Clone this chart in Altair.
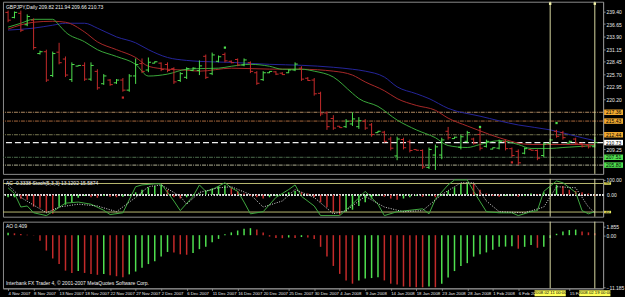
import altair as alt
import pandas as pd

# ---------------- data ----------------
bar_idx = list(range(93))
opens = [239.2, 238.1, 239.0, 236.5, 237.5, 230.2, 230.6, 225.4, 230.5, 229.0,
         224.5, 227.45, 227.6, 224.6, 226.3, 223.6, 224.4, 223.8, 224.4, 222.2,
         225.3, 228.0, 226.6, 228.1, 228.1, 227.8, 226.9, 224.3, 225.0, 226.5,
         226.5, 229.6, 225.8, 228.5, 230.0, 228.5, 228.9, 227.7, 228.2, 226.0,
         224.5, 226.0, 226.2, 225.9, 226.0, 226.6, 227.0, 224.8, 224.4, 221.5,
         217.2, 216.0, 214.3, 214.2, 214.8, 214.2, 215.4, 214.6, 212.9, 213.0,
         211.5, 207.8, 211.4, 210.9, 209.2, 209.0, 205.3, 208.0, 208.0, 213.2,
         211.6, 209.7, 211.0, 211.5, 212.5, 209.9, 209.3, 209.5, 211.0, 209.4,
         208.8, 208.4, 209.2, 209.0, 207.9, 210.5, 213.2, 212.9, 210.6, 211.5,
         210.5, 210.2, 209.82]
highs = [239.6, 239.4, 239.6, 238.76, 237.9, 230.84, 231.05, 230.63, 232.55, 229.56,
         228.27, 227.63, 228.27, 228.27, 226.77, 225.7, 224.63, 224.63, 224.85, 225.7,
         229.13, 229.13, 229.34, 228.49, 228.27, 228.27, 227.2, 226.13, 227.2, 227.2,
         228.7, 229.98, 230.41, 229.77, 230.41, 228.7, 229.13, 229.13, 228.49, 226.35,
         226.35, 226.35, 226.35, 226.13, 226.77, 228.27, 227.42, 225.06, 224.85, 221.85,
         217.57, 216.72, 214.36, 215.86, 217.36, 216.29, 215.86, 215.0, 213.29, 213.29,
         212.01, 212.01, 211.79, 211.37, 209.23, 209.23, 209.65, 210.3, 211.79, 214.15,
         212.01, 212.44, 213.29, 211.79, 213.93, 211.37, 209.65, 211.37, 211.37, 209.65,
         209.23, 209.65, 209.23, 209.23, 210.72, 211.58, 213.51, 213.29, 211.15, 211.79,
         210.72, 210.3, 211.94]
lows = [237.05, 237.9, 234.9, 236.19, 231.05, 229.98, 223.99, 225.06, 227.84, 225.06,
        223.99, 227.42, 224.21, 224.21, 222.28, 223.35, 223.14, 223.56, 221.85, 221.85,
        223.56, 225.92, 226.13, 228.06, 226.35, 226.13, 223.56, 223.99, 224.63, 226.35,
        225.49, 224.63, 225.49, 228.27, 228.27, 228.06, 227.42, 227.42, 225.92, 223.35,
        224.21, 225.92, 225.49, 225.49, 225.92, 226.35, 224.21, 224.21, 220.99, 216.5,
        213.51, 213.51, 213.93, 213.93, 214.36, 213.72, 213.51, 212.01, 212.86, 210.72,
        209.01, 206.87, 209.23, 208.58, 209.01, 204.95, 204.95, 204.73, 207.09, 211.37,
        211.58, 209.23, 210.72, 210.3, 209.01, 209.65, 209.23, 209.23, 209.01, 207.51,
        205.8, 208.16, 209.01, 206.87, 207.51, 210.3, 211.79, 211.37, 210.51, 210.3,
        209.65, 209.44, 209.66]
closes = [237.5, 239.2, 235.3, 238.3, 231.5, 230.6, 224.4, 230.2, 228.2, 225.5,
          227.8, 227.6, 224.6, 227.6, 222.7, 225.3, 223.4, 224.4, 222.2, 225.3,
          227.8, 226.3, 228.3, 228.4, 226.7, 226.5, 224.0, 225.8, 226.9, 227.0,
          227.5, 225.0, 229.9, 229.5, 228.6, 228.2, 227.7, 228.8, 226.3, 223.7,
          226.0, 226.3, 225.7, 225.6, 226.6, 227.9, 224.6, 224.3, 221.4, 217.0,
          214.2, 213.9, 214.0, 215.4, 215.9, 215.5, 213.9, 212.5, 213.2, 211.0,
          209.5, 211.5, 209.6, 209.0, 209.05, 205.4, 209.2, 209.8, 211.3, 211.8,
          211.9, 212.0, 212.9, 210.6, 209.5, 211.0, 209.6, 211.0, 209.4, 207.9,
          206.3, 209.4, 209.05, 207.3, 210.4, 211.3, 212.1, 211.8, 211.0, 210.6,
          209.9, 209.8, 210.73]

# moving averages (sampled points)
ma_fast_idx = [0, 2, 4, 7, 8, 9, 12, 14, 17, 20, 22, 25, 28, 30, 33, 35, 38, 41, 43, 46,
               48, 51, 54, 55, 58, 61, 64, 67, 69, 72, 74, 77, 80, 82, 85, 87, 92]
ma_fast_val = [235.98, 236.83, 237.69, 237.69, 236.4, 234.91, 232.77, 231.05, 229.56, 227.84,
               225.28, 225.7, 226.77, 226.9, 227.0, 227.42, 227.84, 227.42, 226.77, 226.77,
               226.35, 225.06, 221.5, 220.35, 218.64, 215.65, 213.51, 211.79, 210.08, 209.65,
               210.3, 211.15, 210.3, 209.44, 209.44, 209.65, 210.08]
ma_mid_idx = [0, 4, 7, 9, 12, 14, 17, 20, 22, 25, 28, 30, 35, 41, 46, 51, 54, 56, 59, 61,
              64, 67, 69, 72, 74, 77, 82, 87, 92]
ma_mid_val = [235.55, 237.05, 237.26, 237.05, 234.91, 232.77, 231.05, 229.34, 227.42, 226.77,
              226.56, 226.35, 227.0, 226.8, 226.77, 226.35, 225.49, 223.99, 222.07, 220.35,
              218.86, 217.79, 216.07, 214.36, 213.29, 211.79, 210.3, 210.3, 210.3]
ma_slow_idx = [0, 4, 7, 9, 12, 14, 17, 20, 22, 25, 28, 30, 35, 41, 46, 51, 54, 56, 59, 61,
               64, 66, 69, 74, 80, 85, 90, 92]
ma_slow_val = [235.33, 235.76, 236.4, 236.83, 236.83, 235.76, 233.84, 232.55, 231.05, 229.34,
               228.7, 228.49, 228.27, 227.84, 227.63, 227.2, 226.77, 226.35, 225.06, 222.92,
               221.42, 220.35, 218.21, 216.5, 214.58, 213.51, 211.79, 211.15]

# fractal marks
frac_idx = [18, 34, 74, 79, 86]
frac_val = [220.57, 231.5, 214.15, 206.4, 215.0]
frac_kind = ["low", "high", "high", "low", "high"]

# horizontal levels on the price chart
level_val = [217.36, 215.43, 212.44, 207.51, 205.80]
level_line = ["#b08a62", "#a8683c", "#7a7a52", "#4e6e4e", "#b4b496"]
level_tag = ["#f0a830", "#f0a830", "#f0a830", "#50e050", "#50e050"]
current_price = [210.73]

price_ticks = [239.40, 236.65, 233.90, 231.15, 228.45, 225.70, 222.95, 220.20,
               209.25]

# stochastic (main and signal), sampled points
stoch_idx = [0, 1, 2, 3, 4, 6, 7, 9, 11, 13, 15, 16, 18, 20, 21, 23, 24, 26, 27, 29,
             30, 31, 32, 34, 35, 36, 37, 38, 40, 42, 44, 45, 46, 48, 49, 52, 54, 56, 58, 59,
             61, 65, 66, 67, 69, 70, 72, 73, 75, 77, 79, 80, 82, 83, 84, 86, 87, 89, 90, 91, 92]
stoch_val = [78, 62, 24, 27, 8, 0, 11, 35, 38, 32, 15, 3, 8, 81, 86, 89, 89, 41, 14, 54,
             86, 68, 73, 92, 78, 68, 38, 5, 11, 51, 73, 86, 54, 27, 0, 0, 32, 68, 32, 0,
             11, 19, 5, 46, 86, 100, 100, 68, 11, 8, 8, 0, 11, 14, 68, 97, 92, 65, 14, 5, 11]
signal_idx = [0, 2, 6, 8, 11, 14, 17, 20, 22, 24, 27, 28, 30, 33, 35, 38, 40, 43, 45, 48,
              51, 53, 56, 59, 62, 65, 68, 71, 73, 75, 77, 81, 84, 86, 89, 91, 92]
signal_val = [86, 51, 8, 24, 32, 27, 11, 51, 81, 86, 54, 32, 65, 78, 81, 59, 24, 41, 73, 51,
              5, 14, 54, 24, 11, 14, 59, 92, 92, 41, 11, 8, 24, 81, 78, 24, 8]
stoch_levels = [90, 10]
stoch_level_lab = ["90", "10"]

# accelerator histogram (one value per bar)
ac_val = [-0.1, -0.1, -0.16, -0.2, -0.48, -0.52, -0.68, -0.76, -0.48, -0.4,
          -0.32, -0.12, -0.05, -0.1, -0.12, -0.05, -0.08, -0.1, -0.08, -0.04,
          0.1, 0.2, 0.3, 0.35, 0.4, 0.2, -0.1, -0.15, -0.1, -0.05,
          0.05, 0.15, 0.25, 0.35, 0.38, 0.3, 0.15, 0.05, -0.05, -0.1,
          -0.15, -0.1, -0.05, 0.02, 0.1, 0.15, 0.1, 0.05, -0.1, -0.3,
          -0.5, -0.7, -0.8, -0.68, -0.6, -0.45, -0.3, -0.15, -0.05, -0.08,
          -0.15, -0.2, -0.15, -0.1, -0.05, -0.08, -0.05, -0.1, -0.05, 0.15,
          0.3, 0.45, 0.5, 0.45, 0.2, 0.05, -0.05, -0.08, -0.05, -0.03,
          -0.08, -0.05, 0.05, 0.03, 0.1, 0.3, 0.4, 0.35, 0.2, 0.15,
          0.1, 0.05, -0.05]

# awesome oscillator histogram (one value per bar)
ao_val = [0.5, 0.4, 0.25, 0.1, -0.05, -1.2, -3.3, -5.0, -6.2, -7.6,
          -8.1, -7.7, -8.1, -8.3, -8.5, -8.3, -8.6, -8.8, -9.0, -8.4,
          -7.8, -7.0, -6.2, -5.6, -4.6, -3.6, -3.7, -4.1, -4.2, -3.8,
          -3.0, -2.5, -1.5, -0.8, 0.2, 0.6, 1.0, 1.4, 1.5, 1.2,
          0.6, -0.3, -0.6, -0.65, -0.5, -0.6, -0.4, -0.5, -0.8, -2.5,
          -4.6, -6.6, -8.3, -9.7, -10.4, -9.7, -9.3, -9.2, -9.0, -9.7,
          -10.4, -10.6, -11.0, -11.05, -11.15, -11.18, -11.0, -11.18, -10.4, -9.1,
          -7.7, -6.6, -6.0, -4.6, -4.1, -3.7, -3.1, -2.5, -2.45, -2.4,
          -2.9, -2.5, -2.1, -2.7, -2.5, -0.6, 0.3, 0.8, 1.1, 1.2,
          0.8, 0.6, 0.4]
ao_ticks = [1.855, 0.0, -11.185]

# date axis
date_idx = [0, 4, 8, 12, 16, 20, 24, 28, 32, 36, 40, 44, 48, 52, 56, 60, 64, 68, 72, 76, 80, 88]
date_lab = ["4 Nov 2007", "8 Nov 2007", "13 Nov 2007", "18 Nov 2007", "22 Nov 2007",
            "27 Nov 2007", "2 Dec 2007", "6 Dec 2007", "11 Dec 2007", "16 Dec 2007",
            "20 Dec 2007", "25 Dec 2007", "30 Dec 2007", "4 Jan 2008", "9 Jan 2008",
            "14 Jan 2008", "18 Jan 2008", "23 Jan 2008", "28 Jan 2008", "1 Feb 2008",
            "6 Feb 2008", "15 Feb 2008"]
cross_idx = [85, 92]
cross_lab = ["2008.02.11 00:00", "2008.02.19 00:00"]

title_main = "GBPJPY,Daily  209.82 211.94 209.66 210.73"
title_stoch = "AC -0.3338  Stoch(5,3,3) 13.1202 15.5874"
title_ao = "AO 0.409"
copyright_txt = "Interbank FX Trader 4, \u00a9 2001-2007 MetaQuotes Software Corp."

# ---------------- styling ----------------
W = 603
H1, H2, H3 = 173, 38, 67
UP, DOWN = "#4fe04f", "#c42a2a"
FONT = "Liberation Sans"
XS = alt.Scale(domain=[-0.8, 93.3], nice=False, zero=False)
dir_color = alt.Color("dir:N", scale=alt.Scale(domain=["up", "down"], range=[UP, DOWN]), legend=None)

def xnone(field):
    return alt.X(field, scale=XS, axis=None)

# ---------------- main price panel ----------------
ohlc = pd.DataFrame(dict(i=bar_idx, o=opens, h=highs, l=lows, c=closes))
ohlc["dir"] = ["up" if c >= o else "down" for o, c in zip(opens, closes)]

ys1 = alt.Scale(domain=[203.88, 241.54], nice=False, zero=False)
yax1 = alt.Axis(orient="right", values=price_ticks, format=".2f", title=None,
                labelFontSize=5, tickSize=2, labelPadding=1)

def Y1(field):
    return alt.Y(field, scale=ys1, axis=yax1)

base = alt.Chart(ohlc)
hl = base.mark_rule(strokeWidth=1).encode(x=xnone("i:Q"), y=Y1("l:Q"), y2="h:Q", color=dir_color)
otick = base.transform_calculate(xo="datum.i - 0.42").mark_rule(strokeWidth=1).encode(
    x=xnone("xo:Q"), x2="i:Q", y=Y1("o:Q"), color=dir_color)
ctick = base.transform_calculate(xc="datum.i + 0.42").mark_rule(strokeWidth=1).encode(
    x=xnone("i:Q"), x2="xc:Q", y=Y1("c:Q"), color=dir_color)

def ma_line(idx, vals, col):
    d = pd.DataFrame(dict(i=idx, v=vals))
    return alt.Chart(d).mark_line(color=col, strokeWidth=1, interpolate="monotone").encode(
        x=xnone("i:Q"), y=Y1("v:Q"))

ma_slow = ma_line(ma_slow_idx, ma_slow_val, "#25259a")
ma_mid = ma_line(ma_mid_idx, ma_mid_val, "#a82828")
ma_fast = ma_line(ma_fast_idx, ma_fast_val, "#3aa83a")

lev = pd.DataFrame(dict(level=level_val, lc=level_line, tc=level_tag,
                        label=[f"{v:.2f}" for v in level_val]))
lev_rules = alt.Chart(lev).mark_rule(strokeWidth=1, strokeDash=[4, 1, 1, 1]).encode(
    y=Y1("level:Q"), color=alt.Color("lc:N", scale=None))
cur = pd.DataFrame(dict(level=current_price, label=[f"{v:.2f}" for v in current_price]))
cur_rule = alt.Chart(cur).mark_rule(strokeWidth=1.2, strokeDash=[6, 3], color="#f0f0f0").encode(
    y=Y1("level:Q"))

tags = alt.Chart(lev).transform_calculate(lo="datum.level - 0.6", hi="datum.level + 0.6").mark_rect().encode(
    x=alt.value(W + 1), x2=alt.value(W + 20), y=Y1("lo:Q"), y2="hi:Q", color=alt.Color("tc:N", scale=None))
tag_txt = alt.Chart(lev).mark_text(align="left", baseline="middle", fontSize=5, font=FONT, color="black").encode(
    x=alt.value(W + 3), y=Y1("level:Q"), text="label:N")
cur_tag = alt.Chart(cur).transform_calculate(lo="datum.level - 0.6", hi="datum.level + 0.6").mark_rect(color="white").encode(
    x=alt.value(W + 1), x2=alt.value(W + 20), y=Y1("lo:Q"), y2="hi:Q")
cur_txt = alt.Chart(cur).mark_text(align="left", baseline="middle", fontSize=5, font=FONT, color="black").encode(
    x=alt.value(W + 3), y=Y1("level:Q"), text="label:N")

frac = pd.DataFrame(dict(i=frac_idx, v=frac_val, k=frac_kind))
frac_pts = alt.Chart(frac).mark_square(size=5, opacity=1).encode(
    x=xnone("i:Q"), y=Y1("v:Q"),
    color=alt.Color("k:N", scale=alt.Scale(domain=["high", "low"], range=["#e03030", "#40e040"]), legend=None))

cross = pd.DataFrame(dict(i=cross_idx, lab=cross_lab))
cross_rule = alt.Chart(cross).mark_rule(color="#d8d8a0", strokeWidth=1).encode(x=xnone("i:Q"))
cross_top = alt.Chart(cross).mark_square(size=6, color="#f4f4a8", opacity=1).encode(
    x=xnone("i:Q"), y=alt.value(2))

def header(txt, ypos):
    return alt.Chart(pd.DataFrame(dict(t=[txt]))).mark_text(
        align="left", baseline="top", fontSize=5, font=FONT, color="#f0f0f0").encode(
        x=alt.value(3), y=alt.value(ypos), text="t:N")

main = alt.layer(lev_rules, cur_rule, ma_slow, ma_mid, ma_fast, hl, otick, ctick, frac_pts,
                 cross_rule, cross_top, tags, tag_txt, cur_tag, cur_txt,
                 header(title_main, 3)).properties(width=W, height=H1)

# ---------------- stochastic / AC panel ----------------
acdf = pd.DataFrame(dict(i=bar_idx, ac=ac_val))
acdf["dir"] = ["up" if k == 0 or v >= ac_val[k - 1] else "down" for k, v in enumerate(ac_val)]
ys_ac = alt.Scale(domain=[-0.88, 0.64], nice=False, zero=False)
ys_st = alt.Scale(domain=[-3, 103], nice=False, zero=False)

ac_bars = alt.Chart(acdf).mark_rule(strokeWidth=1.5).encode(
    x=xnone("i:Q"), y=alt.Y("ac:Q", scale=ys_ac, axis=None), y2=alt.datum(0), color=dir_color)
ac_zero = alt.Chart(acdf).mark_rule(strokeWidth=1, strokeDash=[1, 2], color="#e0e0e0").encode(
    y=alt.YDatum(0, scale=ys_ac, axis=None))
ac_zero_lab = alt.Chart(pd.DataFrame(dict(t=["0.00"]))).mark_text(
    align="left", baseline="middle", fontSize=5, font=FONT, color="#e8e8e8").encode(
    x=alt.value(W + 4), y=alt.YDatum(0, scale=ys_ac, axis=None), text="t:N")
stl = pd.DataFrame(dict(v=stoch_levels, lab=stoch_level_lab))
st_lev = alt.Chart(stl).mark_rule(strokeWidth=1, color="#b8b870").encode(
    y=alt.Y("v:Q", scale=ys_st, axis=None))
st_tag = alt.Chart(stl).transform_calculate(lo="datum.v - 3.5", hi="datum.v + 3.5").mark_rect(color="#e8e860").encode(
    x=alt.value(W + 1), x2=alt.value(W + 8), y=alt.Y("lo:Q", scale=ys_st, axis=None), y2="hi:Q")
st_tag_txt = alt.Chart(stl).mark_text(align="left", baseline="middle", fontSize=4, font=FONT, color="black").encode(
    x=alt.value(W + 2), y=alt.Y("v:Q", scale=ys_st, axis=None), text="lab:N")
st_main = alt.Chart(pd.DataFrame(dict(i=stoch_idx, v=stoch_val))).mark_line(
    color="#3fa83f", strokeWidth=1).encode(
    x=xnone("i:Q"),
    y=alt.Y("v:Q", scale=ys_st, axis=alt.Axis(orient="right", values=[100], title=None,
                                              labelExpr="'100.00'", labelFontSize=5, tickSize=2, labelPadding=1)))
st_sig = alt.Chart(pd.DataFrame(dict(i=signal_idx, v=signal_val))).mark_line(
    color="#d8d8d8", strokeWidth=1, strokeDash=[1, 1.5]).encode(
    x=xnone("i:Q"), y=alt.Y("v:Q", scale=ys_st, axis=None))

stoch = alt.layer(ac_zero, ac_bars, st_lev, st_main, st_sig, cross_rule, ac_zero_lab, st_tag, st_tag_txt,
                  header(title_stoch, 2)).resolve_scale(y="independent").properties(width=W, height=H2)

# ---------------- AO panel ----------------
aodf = pd.DataFrame(dict(i=bar_idx, ao=ao_val))
aodf["dir"] = ["up" if k == 0 or v >= ao_val[k - 1] else "down" for k, v in enumerate(ao_val)]
ys_ao = alt.Scale(domain=[-11.4, 2.9], nice=False, zero=False)

lab_expr = "''"
for k, lab in reversed(list(zip(date_idx, date_lab))):
    lab_expr = f"datum.value == {k} ? '{lab}' : ({lab_expr})"

xax = alt.Axis(values=date_idx, labelExpr=lab_expr, labelAlign="left", labelFontSize=4.3,
               labelPadding=1, tickSize=2, labelOverlap=False, labelFlush=False, title=None)
XA = alt.X("i:Q", scale=XS, axis=xax)
yax_ao = alt.Axis(orient="right", values=ao_ticks, title=None, labelFontSize=5, tickSize=2, labelPadding=1,
                  labelExpr="datum.value == 0 ? '0.00' : format(datum.value, '.3f')")

ao_bars = alt.Chart(aodf).mark_rule(strokeWidth=1.5).encode(
    x=XA, y=alt.Y("ao:Q", scale=ys_ao, axis=yax_ao), y2=alt.datum(0), color=dir_color)
cross_rule3 = alt.Chart(cross).mark_rule(color="#d8d8a0", strokeWidth=1).encode(x=XA)
hl_box = alt.Chart(cross).transform_calculate(a="datum.i - 2.45", b="datum.i + 2.45").mark_rect(color="#ffff5a").encode(
    x=alt.X("a:Q", scale=XS, axis=xax), x2="b:Q", y=alt.value(H3 + 2), y2=alt.value(H3 + 8))
hl_txt = alt.Chart(cross).mark_text(fontSize=4.3, font=FONT, color="black", baseline="middle").encode(
    x=XA, y=alt.value(H3 + 5), text="lab:N")
copy_txt = alt.Chart(pd.DataFrame(dict(t=[copyright_txt]))).mark_text(
    align="left", baseline="bottom", fontSize=5, font=FONT, color="#f0f0f0").encode(
    x=alt.value(3), y=alt.value(H3 - 2), text="t:N")

ao = alt.layer(ao_bars, cross_rule3, header(title_ao, 2), copy_txt, hl_box, hl_txt).properties(width=W, height=H3)

chart = alt.vconcat(main, stoch, ao, spacing=2).properties(
    background="black", padding={"left": 1, "top": 0, "right": 0, "bottom": 0}
).configure_view(stroke="#8a8a8a", strokeWidth=1).configure_axis(
    labelFont=FONT, labelColor="#e8e8e8", domainColor="#8a8a8a", tickColor="#8a8a8a", grid=False
)

chart.save("out.html", embed_options={"renderer": "svg", "actions": False})
